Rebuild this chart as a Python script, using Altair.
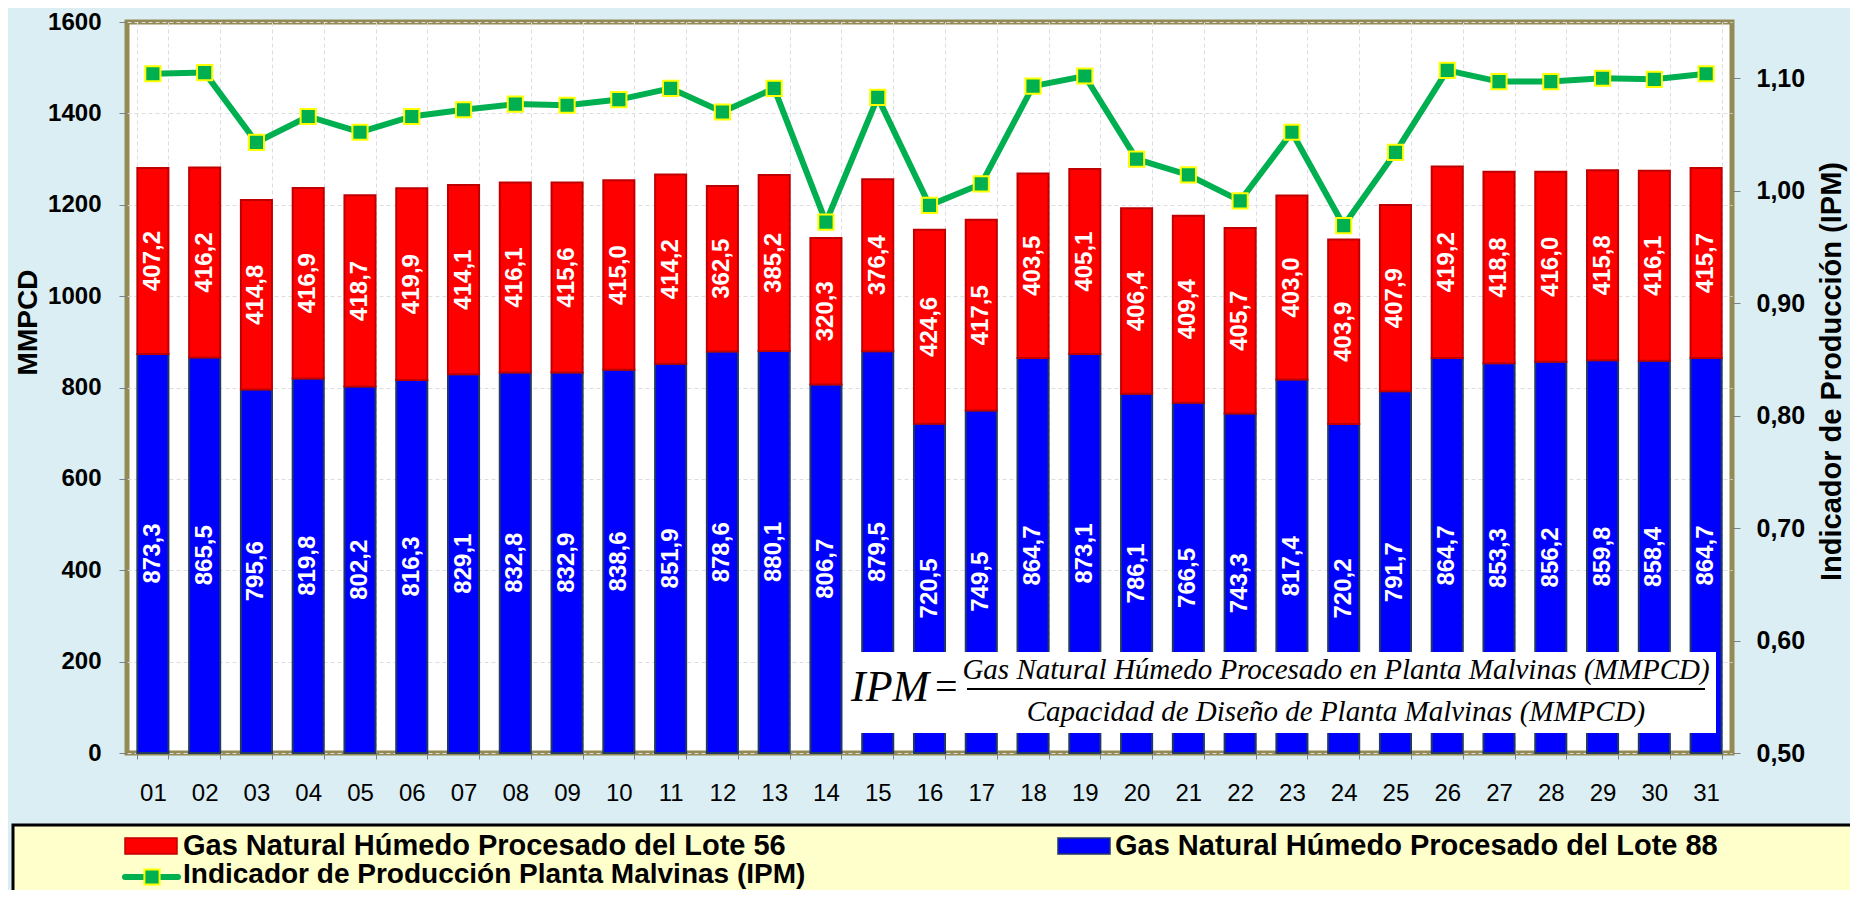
import altair as alt
import pandas as pd

days = ["01", "02", "03", "04", "05", "06", "07", "08", "09", "10", "11", "12", "13", "14", "15", "16",
        "17", "18", "19", "20", "21", "22", "23", "24", "25", "26", "27", "28", "29", "30", "31"]
lote88 = [873.3, 865.5, 795.6, 819.8, 802.2, 816.3, 829.1, 832.8, 832.9, 838.6, 851.9, 878.6, 880.1, 806.7,
          879.5, 720.5, 749.5, 864.7, 873.1, 786.1, 766.5, 743.3, 817.4, 720.2, 791.7, 864.7, 853.3, 856.2,
          859.8, 858.4, 864.7]
lote56 = [407.2, 416.2, 414.8, 416.9, 418.7, 419.9, 414.1, 416.1, 415.6, 415.0, 414.2, 362.5, 385.2, 320.3,
          376.4, 424.6, 417.5, 403.5, 405.1, 406.4, 409.4, 405.7, 403.0, 403.9, 407.9, 419.2, 418.8, 416.0,
          415.8, 416.1, 415.7]
ipm = [1.104, 1.105, 1.043, 1.066, 1.052, 1.066, 1.072, 1.077, 1.076, 1.081, 1.091, 1.070, 1.091, 0.972,
       1.083, 0.987, 1.006, 1.093, 1.102, 1.028, 1.014, 0.991, 1.052, 0.969, 1.034, 1.107, 1.097, 1.097,
       1.100, 1.099, 1.104]
left_ticks = [0, 200, 400, 600, 800, 1000, 1200, 1400, 1600]
right_ticks = [0.5, 0.6, 0.7, 0.8, 0.9, 1.0, 1.1]

FONT = "Liberation Sans"
SERIF = "Liberation Serif"
RED, RED_S = "#FF0000", "#C00000"
BLUE, BLUE_S = "#0000FF", "#1F3864"
GREEN, YELLOW = "#00B050", "#FFFF00"

df = pd.DataFrame({"day": days, "l88": lote88, "l56": lote56, "ipm": ipm})
one = pd.DataFrame({"k": [0]})

xenc = alt.X("day:N", sort=days,
             scale=alt.Scale(paddingInner=0.4, paddingOuter=0.2),
             axis=alt.Axis(title=None, labelAngle=0, labelFont=FONT, labelFontSize=24,
                           labelColor="black", tickBand="extent", grid=True,
                           gridColor="#DDDDDD", gridDash=[4, 3], domain=False,
                           tickColor="#808080", tickSize=6, labelPadding=22))
yscale = alt.Scale(domain=[0, 1600], nice=False, zero=True)
yaxis = alt.Axis(title="MMPCD", values=left_ticks, format="d", labelFont=FONT, labelFontSize=24,
                 labelFontWeight="bold", labelColor="black", grid=True, gridColor="#DDDDDD",
                 gridDash=[4, 3], domain=False, tickColor="#808080", tickSize=8, labelPadding=18,
                 titleFont=FONT, titleFontSize=28, titleFontWeight="bold", titleColor="black",
                 titleAngle=270, titleX=-99, titleY=300, titleAlign="center", titleBaseline="middle")

base = alt.Chart(df).transform_calculate(
    top="datum.l88 + datum.l56",
    mid88="datum.l88 / 2",
    mid56="datum.l88 + datum.l56 / 2",
    lab88="replace(format(datum.l88, '.1f'), '.', ',')",
    lab56="replace(format(datum.l56, '.1f'), '.', ',')",
)

blue = base.mark_bar(fill=BLUE, stroke=BLUE_S, strokeWidth=2).encode(
    x=xenc, y=alt.Y("l88:Q", scale=yscale, axis=yaxis))
red = base.mark_bar(fill=RED, stroke=RED_S, strokeWidth=2).encode(
    x=xenc, y=alt.Y("top:Q", scale=yscale, axis=yaxis), y2="l88:Q")
txt_style = dict(font=FONT, fontWeight="bold", fontSize=24, color="white", angle=270,
                 align="center", baseline="middle")
t88 = base.mark_text(**txt_style).encode(
    x=xenc, y=alt.Y("mid88:Q", scale=yscale, axis=yaxis), text="lab88:N")
t56 = base.mark_text(**txt_style).encode(
    x=xenc, y=alt.Y("mid56:Q", scale=yscale, axis=yaxis), text="lab56:N")
bars = alt.layer(blue, red, t88, t56)

rscale = alt.Scale(domain=[0.5, 1.15], nice=False, zero=False)
raxis = alt.Axis(orient="right", title="Indicador de Producción (IPM)", values=right_ticks,
                 labelExpr="replace(format(datum.value, '.2f'), '.', ',')", labelFont=FONT,
                 labelFontSize=25, labelFontWeight="bold", labelColor="black", grid=False,
                 domain=False, tickColor="#808080", tickSize=8, labelPadding=16,
                 titleFont=FONT, titleFontSize=29, titleFontWeight="bold", titleColor="black",
                 titleAngle=270, titleX=99, titleY=349, titleAlign="center", titleBaseline="middle")
line = alt.Chart(df).mark_line(color=GREEN, strokeWidth=6).encode(
    x=xenc, y=alt.Y("ipm:Q", scale=rscale, axis=raxis))
pts = alt.Chart(df).mark_point(shape="square", filled=True, size=230, fill=GREEN, stroke=YELLOW,
                               strokeWidth=2, opacity=1).encode(
    x=xenc, y=alt.Y("ipm:Q", scale=rscale, axis=raxis))
ipm_layer = alt.layer(line, pts)

# formula box
box = alt.Chart(one).mark_rect(fill="white").encode(
    x=alt.value(718), x2=alt.value(1589), y=alt.value(630), y2=alt.value(711))
ipm_txt = alt.Chart(one).mark_text(text="IPM", font=SERIF, fontStyle="italic", fontSize=44,
                                   align="left", baseline="middle", color="black").encode(
    x=alt.value(724), y=alt.value(666))
eq_txt = alt.Chart(one).mark_text(text="=", font=SERIF, fontSize=40,
                                  align="left", baseline="middle", color="black").encode(
    x=alt.value(808), y=alt.value(666))
num = alt.Chart(one).mark_text(text="Gas Natural Húmedo Procesado en Planta Malvinas (MMPCD)",
                               font=SERIF, fontStyle="italic", fontSize=29, align="center",
                               baseline="middle", color="black").encode(
    x=alt.value(1209), y=alt.value(648))
frac = alt.Chart(one).mark_rule(color="black", strokeWidth=2).encode(
    x=alt.value(840), x2=alt.value(1578), y=alt.value(667))
den = alt.Chart(one).mark_text(text="Capacidad de Diseño de Planta Malvinas (MMPCD)",
                               font=SERIF, fontStyle="italic", fontSize=29, align="center",
                               baseline="middle", color="black").encode(
    x=alt.value(1209), y=alt.value(690))

# legend
lbox = alt.Chart(one).mark_rect(fill="#FFFFCC", stroke="black", strokeWidth=3).encode(
    x=alt.value(-114), x2=alt.value(1745), y=alt.value(803), y2=alt.value(905))
sw_red = alt.Chart(one).mark_rect(fill=RED, stroke=RED_S, strokeWidth=1.5).encode(
    x=alt.value(-2), x2=alt.value(50), y=alt.value(816), y2=alt.value(832))
sw_blue = alt.Chart(one).mark_rect(fill=BLUE, stroke=BLUE_S, strokeWidth=1.5).encode(
    x=alt.value(931), x2=alt.value(983), y=alt.value(816), y2=alt.value(832))
leg_style = dict(font=FONT, fontWeight="bold", fontSize=29, align="left", baseline="middle",
                 color="black")
lt1 = alt.Chart(one).mark_text(text="Gas Natural Húmedo Procesado del Lote 56", **leg_style).encode(
    x=alt.value(56), y=alt.value(824))
lt2 = alt.Chart(one).mark_text(text="Gas Natural Húmedo Procesado del Lote 88", **leg_style).encode(
    x=alt.value(988), y=alt.value(824))
lt3 = alt.Chart(one).mark_text(text="Indicador de Producción Planta Malvinas (IPM)", font=FONT,
                               fontWeight="bold", fontSize=28, align="left", baseline="middle",
                               color="black").encode(
    x=alt.value(56), y=alt.value(853))
lline = alt.Chart(one).mark_rule(color=GREEN, strokeWidth=6, strokeCap="round").encode(
    x=alt.value(-2), x2=alt.value(51), y=alt.value(855))
lsq = alt.Chart(one).mark_point(shape="square", filled=True, size=230, fill=GREEN, stroke=YELLOW,
                                strokeWidth=2, opacity=1).encode(
    x=alt.value(25), y=alt.value(855))

chart = alt.layer(
    bars, box, ipm_txt, eq_txt, num, frac, den, ipm_layer,
    lbox, sw_red, sw_blue, lt1, lt2, lt3, lline, lsq
).resolve_scale(y="independent").properties(
    width=1605, height=731,
    autosize=alt.AutoSizeParams(type="none"),
    padding={"left": 119, "top": 14, "right": 118, "bottom": 137},
    background="#DAEEF3",
).configure_view(fill="white", stroke="#948A54", strokeWidth=5)

chart.save("out.html", embed_options={"renderer": "svg", "actions": False})
